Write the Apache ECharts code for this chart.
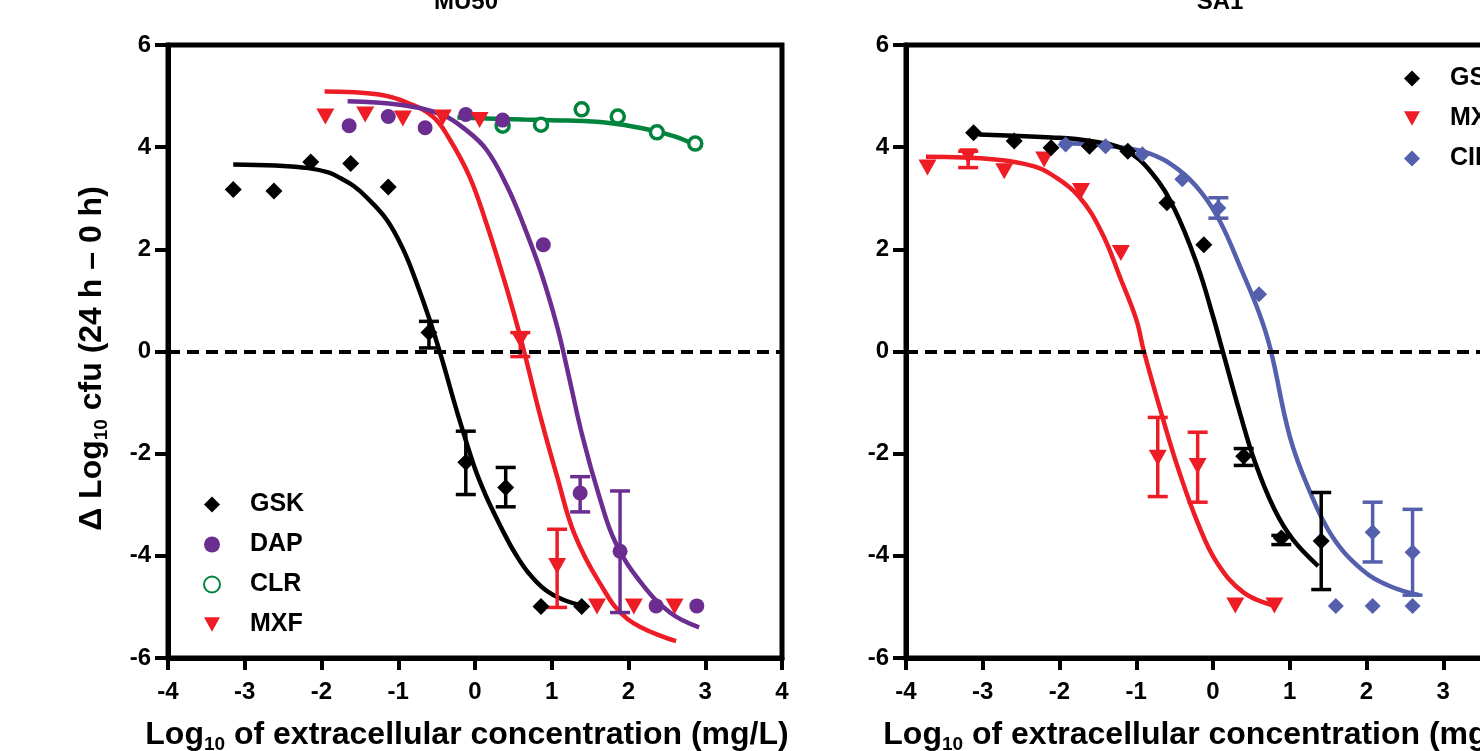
<!DOCTYPE html>
<html><head><meta charset="utf-8">
<script src="https://cdn.jsdelivr.net/npm/echarts@6/dist/echarts.min.js"></script>
<style>html,body{margin:0;padding:0;overflow:hidden;background:#fff;width:1480px;height:751px}#c{width:1560px;height:751px}</style>
</head><body><div id="c"></div><script>
// ---------- MU50 panel ----------
const mu50GskX = [-3.15,-2.62,-2.14,-1.62,-1.13,-0.60,-0.12,0.40,0.86,1.39];
const mu50GskY = [3.17,3.14,3.71,3.68,3.22,0.37,-2.17,-2.66,-4.99,-4.99];
const mu50GskErrX = [-0.60,-0.12,0.40];
const mu50GskErrLo = [0.07,-2.80,-3.04];
const mu50GskErrHi = [0.59,-1.56,-2.27];
const mu50GskFitX = [-3.15,-2.60,-2.17,-1.90,-1.75,-1.58,-1.42,-1.15,-0.93,-0.77,-0.60,-0.44,-0.23,-0.01,0.13,0.26,0.40,0.53,0.70,0.91,1.15,1.45];
const mu50GskFitY = [3.66,3.64,3.59,3.50,3.39,3.24,3.03,2.58,1.98,1.38,0.66,-0.10,-1.20,-2.25,-2.78,-3.20,-3.62,-3.97,-4.34,-4.66,-4.86,-4.99];

const mu50DapX = [-1.64,-1.13,-0.65,-0.12,0.36,0.89,1.37,1.89,2.36,2.89];
const mu50DapY = [4.42,4.60,4.38,4.64,4.53,2.09,-2.77,-3.91,-4.98,-4.98];
const mu50DapErrX = [1.37,1.89];
const mu50DapErrLo = [-3.14,-5.11];
const mu50DapErrHi = [-2.45,-2.73];
const mu50DapFitX = [-1.66,-0.98,-0.44,-0.12,0.15,0.42,0.64,0.86,1.07,1.21,1.40,1.62,1.83,2.16,2.54,2.92];
const mu50DapFitY = [4.90,4.83,4.64,4.34,3.95,3.23,2.45,1.55,0.49,-0.40,-1.66,-2.84,-3.74,-4.52,-5.11,-5.40];

const mu50ClrX = [0.36,0.86,1.39,1.86,2.37,2.87];
const mu50ClrY = [4.42,4.44,4.74,4.60,4.29,4.07];
const mu50ClrFitX = [-0.23,0.64,1.20,1.72,2.00,2.27,2.60,2.86];
const mu50ClrFitY = [4.58,4.54,4.52,4.48,4.42,4.34,4.21,4.05];

const mu50MxfX = [-1.95,-1.43,-0.94,-0.42,0.06,0.59,1.07,1.59,2.07,2.60];
const mu50MxfY = [4.60,4.64,4.56,4.58,4.53,0.23,-4.20,-4.99,-4.99,-4.99];
const mu50MxfErrX = [0.59,1.07];
const mu50MxfErrLo = [-0.10,-5.01];
const mu50MxfErrHi = [0.37,-3.48];
const mu50MxfFitX = [-1.96,-1.25,-0.88,-0.55,-0.34,-0.07,0.15,0.37,0.53,0.64,0.86,1.07,1.29,1.62,1.99,2.62];
const mu50MxfFitY = [5.09,5.03,4.87,4.60,4.18,3.42,2.50,1.45,0.62,0.00,-1.32,-2.45,-3.55,-4.52,-5.24,-5.67];

// ---------- SA1 panel ----------
const sa1GskX = [-3.12,-2.59,-2.11,-1.61,-1.11,-0.60,-0.12,0.40,0.89,1.41];
const sa1GskY = [4.28,4.12,3.99,4.02,3.92,2.91,2.09,-2.05,-3.65,-3.71];
const sa1GskErrX = [0.40,0.89,1.41];
const sa1GskErrLo = [-2.23,-3.78,-4.66];
const sa1GskErrHi = [-1.90,-3.60,-2.76];
const sa1GskFitX = [-3.05,-2.10,-1.60,-1.15,-0.80,-0.50,-0.20,0.00,0.12,0.35,0.55,0.80,1.04,1.37];
const sa1GskFitY = [4.25,4.19,4.12,3.95,3.50,2.78,1.67,0.69,0.04,-1.20,-2.18,-3.09,-3.68,-4.20];

const sa1MxfX = [-3.72,-3.19,-2.72,-2.20,-1.72,-1.20,-0.72,-0.20,0.29,0.80];
const sa1MxfY = [3.60,3.82,3.53,3.76,3.14,1.93,-2.08,-2.24,-4.97,-4.97];
const sa1MxfErrX = [-3.19,-0.72,-0.20];
const sa1MxfErrLo = [3.60,-2.84,-2.95];
const sa1MxfErrHi = [3.92,-1.29,-1.58];
const sa1MxfFitX = [-3.74,-2.84,-2.34,-2.10,-1.75,-1.45,-1.20,-1.00,-0.90,-0.65,-0.45,-0.20,0.05,0.40,0.80];
const sa1MxfFitY = [3.81,3.76,3.63,3.46,3.04,2.33,1.41,0.63,0.00,-1.33,-2.31,-3.35,-4.13,-4.72,-4.98];

const sa1CipX = [-1.92,-1.40,-0.92,-0.40,0.07,0.60,1.60,2.08,2.08,2.60,2.60];
const sa1CipY = [4.05,4.02,3.86,3.37,2.81,1.12,-4.98,-3.54,-4.98,-3.93,-4.98];
const sa1CipErrX = [0.07,2.08,2.60];
const sa1CipErrLo = [2.61,-4.12,-4.77];
const sa1CipErrHi = [3.01,-2.95,-3.09];
const sa1CipFitX = [-2.00,-1.35,-0.85,-0.45,-0.15,0.10,0.35,0.60,0.75,1.00,1.25,1.55,1.94,2.30,2.69];
const sa1CipFitY = [4.08,4.02,3.89,3.56,3.11,2.52,1.67,0.76,0.04,-1.66,-2.70,-3.61,-4.27,-4.59,-4.77];

const panelTitles = ['MU50','SA1'];
const legendMU50 = ['GSK','DAP','CLR','MXF'];
const legendSA1 = ['GSK','MXF','CIP'];

// ---------- styles ----------
const FONT = "'Liberation Sans', Arial, sans-serif";
const C = {GSK:'#000000', DAP:'#6b2d90', CLR:'#00843d', MXF:'#ee1c25', CIP:'#5460ac'};
const TRI = 'path://M0,0 L20,0 L10,18 Z';

const pts = (xs, ys) => xs.map((x, i) => [x, ys[i]]);
const errs = (xs, lo, hi) => xs.map((x, i) => [x, lo[i], hi[i]]);

function fitSeries(name, idx, xs, ys, color) {
  return {name, type:'line', xAxisIndex:idx, yAxisIndex:idx, data:pts(xs, ys), smooth:0.4,
    showSymbol:false, symbol:'none', lineStyle:{color, width:4.5}, z:3, silent:true};
}
function pointSeries(name, idx, xs, ys, color, symbol, size, itemStyle) {
  return {name, type:'scatter', xAxisIndex:idx, yAxisIndex:idx, data:pts(xs, ys),
    symbol, symbolSize:size, itemStyle:itemStyle || {color, opacity:1}, z:5};
}
function errSeries(name, idx, xs, lo, hi, color) {
  return {name, type:'custom', xAxisIndex:idx, yAxisIndex:idx, data:errs(xs, lo, hi), z:4, silent:true,
    encode:{x:0, y:[1,2]},
    renderItem: function (params, api) {
      const a = api.coord([api.value(0), api.value(1)]);
      const b = api.coord([api.value(0), api.value(2)]);
      const h = 10, st = {stroke:color, lineWidth:3.5};
      return {type:'group', children:[
        {type:'line', shape:{x1:a[0], y1:a[1], x2:b[0], y2:b[1]}, style:st},
        {type:'line', shape:{x1:a[0]-h, y1:a[1], x2:a[0]+h, y2:a[1]}, style:st},
        {type:'line', shape:{x1:b[0]-h, y1:b[1], x2:b[0]+h, y2:b[1]}, style:st}
      ]};
    }};
}
function zeroLine(idx) {
  return {name:'zero'+idx, type:'line', xAxisIndex:idx, yAxisIndex:idx, data:[], z:2, silent:true,
    markLine:{silent:true, symbol:['none','none'], label:{show:false},
      lineStyle:{color:'#000', width:4, type:[12,7]}, data:[{yAxis:0}]}};
}

const richName = {
  t:{fontSize:32, fontWeight:'bold', fontFamily:FONT, color:'#000', lineHeight:38},
  s:{fontSize:19, fontWeight:'bold', fontFamily:FONT, color:'#000', lineHeight:19, verticalAlign:'bottom'}
};

function xAx(idx, withName) {
  return {type:'value', gridIndex:idx, min:-4, max:4, interval:1,
    axisLine:{show:true, onZero:false, lineStyle:{color:'#000', width:5}},
    axisTick:{show:true, length:12, lineStyle:{color:'#000', width:4}},
    axisLabel:{fontSize:24, fontWeight:'bold', fontFamily:FONT, color:'#000', margin:22},
    splitLine:{show:false},
    name: withName ? '{t|Log}{s|10}{t| of extracellular concentration (mg/L)}' : '',
    nameLocation:'middle', nameGap:58, nameTextStyle:{rich:richName, padding:[0,16,0,0]}};
}
function yAx(idx, withName) {
  return {type:'value', gridIndex:idx, min:-6, max:6, interval:2,
    axisLine:{show:true, onZero:false, lineStyle:{color:'#000', width:5}},
    axisTick:{show:true, length:13, lineStyle:{color:'#000', width:4}},
    axisLabel:{fontSize:24, fontWeight:'bold', fontFamily:FONT, color:'#000', margin:17},
    splitLine:{show:false},
    name: withName ? '{t|Δ Log}{s|10}{t| cfu (24 h – 0 h)}' : '',
    nameLocation:'middle', nameRotate:90, nameGap:57, nameTextStyle:{rich:richName, padding:[0,14,0,0]}};
}

function legend(left, top, names) {
  return {orient:'vertical', left, top, padding:0, itemWidth:16, itemHeight:16, itemGap:15,
    data:names, selectedMode:false,
    textStyle:{fontSize:25, fontWeight:'bold', fontFamily:FONT, color:'#000', lineHeight:23, padding:[0,0,0,25]}};
}

const gridBase = {top:45, width:614, height:613, show:true, borderColor:'#000', borderWidth:5,
  containLabel:false, outerBoundsMode:'none'};

const option = {
  backgroundColor:'#fff',
  animation:false,
  title:[
    {text:panelTitles[0], left:466, top:-10, padding:0, textAlign:'center', textStyle:{fontSize:24, fontWeight:'bold', fontFamily:FONT, color:'#000'}},
    {text:panelTitles[1], left:1220, top:-10, padding:0, textAlign:'center', textStyle:{fontSize:24, fontWeight:'bold', fontFamily:FONT, color:'#000'}}
  ],
  grid:[
    Object.assign({left:168}, gridBase),
    Object.assign({left:906}, gridBase)
  ],
  xAxis:[xAx(0, true), xAx(1, true)],
  yAxis:[yAx(0, true), yAx(1, false)],
  legend:[legend(203, 492, legendMU50), legend(1404, 66, legendSA1)],
  series:[
    zeroLine(0), zeroLine(1),
    // MU50
    fitSeries('GSK fit MU50', 0, mu50GskFitX, mu50GskFitY, C.GSK),
    fitSeries('CLR fit MU50', 0, mu50ClrFitX, mu50ClrFitY, C.CLR),
    fitSeries('MXF fit MU50', 0, mu50MxfFitX, mu50MxfFitY, C.MXF),
    fitSeries('DAP fit MU50', 0, mu50DapFitX, mu50DapFitY, C.DAP),
    errSeries('GSK err MU50', 0, mu50GskErrX, mu50GskErrLo, mu50GskErrHi, C.GSK),
    errSeries('DAP err MU50', 0, mu50DapErrX, mu50DapErrLo, mu50DapErrHi, C.DAP),
    errSeries('MXF err MU50', 0, mu50MxfErrX, mu50MxfErrLo, mu50MxfErrHi, C.MXF),
    pointSeries('GSK', 0, mu50GskX, mu50GskY, C.GSK, 'diamond', 17),
    pointSeries('CLR', 0, mu50ClrX, mu50ClrY, C.CLR, 'circle', 13, {color:'#fff', borderColor:C.CLR, borderWidth:3.5, opacity:1}),
    pointSeries('DAP', 0, mu50DapX, mu50DapY, C.DAP, 'circle', 15),
    pointSeries('MXF', 0, mu50MxfX, mu50MxfY, C.MXF, TRI, [18,16]),
    // SA1
    fitSeries('MXF fit SA1', 1, sa1MxfFitX, sa1MxfFitY, C.MXF),
    fitSeries('CIP fit SA1', 1, sa1CipFitX, sa1CipFitY, C.CIP),
    fitSeries('GSK fit SA1', 1, sa1GskFitX, sa1GskFitY, C.GSK),
    errSeries('GSK err SA1', 1, sa1GskErrX, sa1GskErrLo, sa1GskErrHi, C.GSK),
    errSeries('MXF err SA1', 1, sa1MxfErrX, sa1MxfErrLo, sa1MxfErrHi, C.MXF),
    errSeries('CIP err SA1', 1, sa1CipErrX, sa1CipErrLo, sa1CipErrHi, C.CIP),
    pointSeries('CIP', 1, sa1CipX, sa1CipY, C.CIP, 'diamond', 16),
    pointSeries('MXF', 1, sa1MxfX, sa1MxfY, C.MXF, TRI, [18,16]),
    pointSeries('GSK', 1, sa1GskX, sa1GskY, C.GSK, 'diamond', 17)
  ]
};
const chart = echarts.init(document.getElementById('c'), null, {renderer:'canvas'});
chart.setOption(option);
</script></body></html>
